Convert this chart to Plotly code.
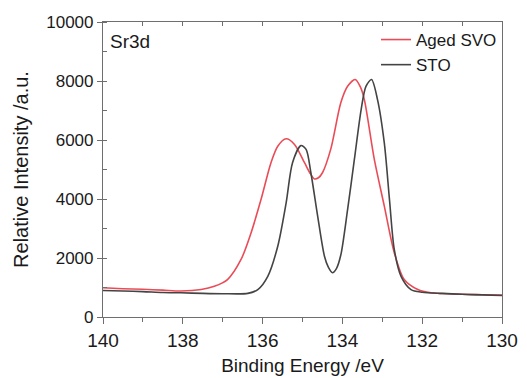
import plotly.graph_objects as go

# Aged SVO (red)
svo_ev = [140, 139.5, 139, 138.5, 138.05, 137.54, 137.21, 136.88, 136.54, 136.29, 136.04,
          135.79, 135.62, 135.41, 135.2, 134.95, 134.8, 134.7, 134.6, 134.5, 134.29, 134.04,
          133.87, 133.68, 133.55, 133.45, 133.2, 132.95, 132.7, 132.45, 132.11, 131.78,
          131, 130.5, 130]
svo_int = [990, 960, 940, 910, 880, 930, 1040, 1270, 1950, 2850, 3980,
           5230, 5790, 6040, 5850, 5230, 4850, 4680, 4720, 4890, 5700, 7260,
           7820, 8050, 7800, 7370, 5340, 3760, 2180, 1270, 930, 820,
           770, 755, 740]

# STO (dark grey)
sto_ev = [140, 139.5, 139, 138.5, 138.05, 137.5, 137, 136.37, 136.12, 135.87, 135.62,
          135.41, 135.25, 135.04, 134.91, 134.79, 134.62, 134.45, 134.35, 134.25, 134.15,
          134.04, 133.87, 133.7, 133.53, 133.41, 133.27, 133.12, 132.95, 132.82, 132.7,
          132.53, 132.28, 132, 131.5, 131, 130.5, 130]
sto_int = [900, 880, 860, 830, 820, 800, 790, 800, 930, 1380, 2400,
           3870, 5230, 5810, 5680, 4890, 3420, 2060, 1680, 1500, 1640,
           2100, 3640, 5340, 7030, 7820, 8050, 7370, 5900, 3980, 2290,
           1380, 930, 840, 800, 770, 750, 730]

x_ticks = [140, 138, 136, 134, 132, 130]
y_ticks = [0, 2000, 4000, 6000, 8000, 10000]

FONT = "Liberation Sans, Arial, sans-serif"
TXT = "#1a1a1a"
AX = "#6e6e6e"

fig = go.Figure()
fig.add_trace(go.Scatter(x=svo_ev, y=svo_int, mode="lines", name="Aged SVO",
                         line=dict(color="#ea4c57", width=1.6, shape="spline", smoothing=0.8)))
fig.add_trace(go.Scatter(x=sto_ev, y=sto_int, mode="lines", name="STO",
                         line=dict(color="#444444", width=1.6, shape="spline", smoothing=0.8)))
# invisible trace to anchor top axis
fig.add_trace(go.Scatter(x=[140, 130], y=[None, None], xaxis="x2", showlegend=False,
                         hoverinfo="skip", mode="lines"))

fig.update_layout(
    width=527, height=378, autosize=False,
    margin=dict(l=103, r=25, t=22, b=61),
    paper_bgcolor="white", plot_bgcolor="white",
    font=dict(family=FONT, color=TXT, size=17),
    showlegend=True,
    legend=dict(x=1.0, xanchor="right", y=1.0, yanchor="top",
                bgcolor="rgba(0,0,0,0)", font=dict(size=17, color=TXT),
                tracegroupgap=0, itemwidth=30),
    xaxis=dict(range=[140, 130], tickvals=x_ticks, ticktext=[str(v) for v in x_ticks],
               automargin=False,
               showgrid=False, zeroline=False, showline=True, linecolor=AX, linewidth=1.2,
               mirror=True, ticks="outside", ticklen=6, tickcolor=AX, tickwidth=1.2,
               minor=dict(dtick=1, ticks="outside", ticklen=4, tickcolor=AX, showgrid=False),
               tickfont=dict(size=19, color=TXT),
               title=dict(text="Binding Energy /eV", font=dict(size=19, color=TXT), standoff=8)),
    xaxis2=dict(range=[140, 130], overlaying="x", side="top", anchor="y",
                automargin=False,
                showgrid=False, zeroline=False, showline=False, showticklabels=False,
                tickvals=list(range(130, 141)), ticks="inside", ticklen=4,
                tickcolor=AX, tickwidth=1.2),
    yaxis=dict(range=[0, 10000], tickvals=y_ticks, ticktext=[str(v) for v in y_ticks],
               automargin=False,
               showgrid=False, zeroline=False, showline=True, linecolor=AX, linewidth=1.2,
               mirror=True, ticks="outside", ticklen=5, tickcolor=AX, tickwidth=1.2,
               minor=dict(dtick=1000, ticks="inside", ticklen=4, tickcolor=AX, showgrid=False),
               tickfont=dict(size=17, color=TXT),
               title=dict(text="Relative Intensity /a.u.", font=dict(size=20, color=TXT), standoff=12)),
    annotations=[dict(text="Sr3d", x=0.012, y=0.935, xref="paper", yref="paper",
                      xanchor="left", yanchor="middle", showarrow=False,
                      font=dict(size=19, color=TXT))],
)

fig.write_html("out.html", config={"displayModeBar": False},
               post_script="document.body.style.margin='0';document.body.style.overflow='hidden';")
